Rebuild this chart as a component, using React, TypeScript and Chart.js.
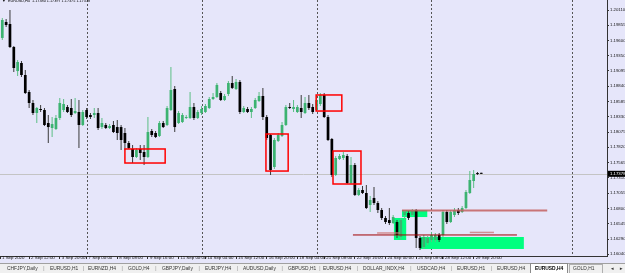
import React, { useEffect, useRef } from "react";
import { Chart, registerables } from "chart.js";

Chart.register(...registerables);

// Bar index of the first candle (7 Sep 00:00 = bar 0), EURUSD H4
const FIRST_BAR = -22;

const opens = [
  1.19644, 1.19910, 1.19877, 1.19493, 1.19092, 1.19226, 1.19026, 1.18743, 1.18559, 1.18392,
  1.18459, 1.18442, 1.18225, 1.18142, 1.18125, 1.18309, 1.18442, 1.18492, 1.18476, 1.18392,
  1.18409, 1.18192, 1.18442, 1.18359, 1.18359, 1.18392, 1.18158, 1.18192, 1.18142, 1.18192,
  1.18158, 1.18158, 1.18059, 1.17892, 1.17792, 1.17658, 1.17792, 1.17742, 1.17658, 1.18092,
  1.18059, 1.18009, 1.18225, 1.18192, 1.18442, 1.18793, 1.18225, 1.18242, 1.18309, 1.18309,
  1.18492, 1.18309, 1.18392, 1.18409, 1.18476, 1.18626, 1.18659, 1.18726, 1.18609, 1.18709,
  1.18893, 1.18793, 1.18910, 1.18409, 1.18459, 1.18409, 1.18476, 1.18592, 1.18676, 1.18325,
  1.18025, 1.17491, 1.17925, 1.18009, 1.18192, 1.18492, 1.18459, 1.18409, 1.18476, 1.18392,
  1.18559, 1.18492, 1.18442, 1.18542, 1.18693, 1.18325, 1.17959, 1.17358, 1.17625, 1.17642,
  1.17675, 1.17225, 1.17525, 1.17025, 1.17108, 1.17058, 1.16858, 1.16975, 1.16891, 1.16774,
  1.16641, 1.16607, 1.16557, 1.16574, 1.16324, 1.16691, 1.16724, 1.16691, 1.16774, 1.16308,
  1.16157, 1.16224, 1.16274, 1.16274, 1.16358, 1.16358, 1.16741, 1.16574, 1.16691, 1.16774,
  1.16741, 1.16808, 1.17058, 1.17258, 1.17391, 1.17380,
];
const highs = [
  1.19977, 1.19960, 1.20110, 1.19510, 1.19276, 1.19259, 1.19109, 1.18776, 1.18609, 1.18492,
  1.18526, 1.18476, 1.18359, 1.18325, 1.18359, 1.18643, 1.18626, 1.18526, 1.18626, 1.18643,
  1.18609, 1.18442, 1.18476, 1.18392, 1.18476, 1.18476, 1.18309, 1.18225, 1.18208, 1.18258,
  1.18275, 1.18192, 1.18142, 1.17925, 1.17859, 1.17809, 1.17859, 1.17859, 1.18325, 1.18125,
  1.18092, 1.18258, 1.18258, 1.18509, 1.19159, 1.18843, 1.18425, 1.18392, 1.18359, 1.18743,
  1.18559, 1.18442, 1.18509, 1.18542, 1.18659, 1.18726, 1.18893, 1.18759, 1.18709, 1.18926,
  1.19009, 1.18959, 1.18943, 1.18509, 1.18492, 1.18492, 1.18643, 1.18743, 1.18810, 1.18359,
  1.18042, 1.17975, 1.18059, 1.18242, 1.18526, 1.18559, 1.18609, 1.18526, 1.18693, 1.18659,
  1.18693, 1.18542, 1.18693, 1.18726, 1.18726, 1.18359, 1.17975, 1.17675, 1.17708, 1.17742,
  1.17708, 1.17658, 1.17558, 1.17141, 1.17175, 1.17191, 1.17008, 1.17158, 1.16924, 1.16808,
  1.16674, 1.16808, 1.16691, 1.16607, 1.16641, 1.16774, 1.16757, 1.16791, 1.16791, 1.16341,
  1.16358, 1.16341, 1.16408, 1.16391, 1.16391, 1.16774, 1.16774, 1.16774, 1.16808, 1.16808,
  1.16841, 1.17108, 1.17424, 1.17441, 1.17408, 1.17397,
];
const lows = [
  1.19610, 1.19827, 1.19477, 1.19076, 1.19009, 1.18992, 1.18709, 1.18476, 1.18359, 1.18225,
  1.18409, 1.18175, 1.17892, 1.17992, 1.18109, 1.18275, 1.18409, 1.18392, 1.18325, 1.18375,
  1.17809, 1.18175, 1.18292, 1.18292, 1.18309, 1.18109, 1.18125, 1.18125, 1.18125, 1.18059,
  1.17942, 1.17775, 1.17775, 1.17792, 1.17558, 1.17642, 1.17608, 1.17525, 1.17642, 1.17992,
  1.17975, 1.17992, 1.18142, 1.18175, 1.18425, 1.18075, 1.18208, 1.18225, 1.18292, 1.18292,
  1.18275, 1.18292, 1.18359, 1.18392, 1.18459, 1.18609, 1.18643, 1.18592, 1.18592, 1.18676,
  1.18793, 1.18776, 1.18375, 1.18392, 1.18392, 1.18309, 1.18459, 1.18576, 1.18275, 1.17942,
  1.17358, 1.17458, 1.17909, 1.17992, 1.18175, 1.18459, 1.18409, 1.18392, 1.18309, 1.18375,
  1.18442, 1.18375, 1.18425, 1.18509, 1.18309, 1.17925, 1.17325, 1.17341, 1.17608, 1.17608,
  1.17208, 1.17208, 1.17008, 1.17008, 1.17041, 1.16791, 1.16741, 1.16858, 1.16724, 1.16607,
  1.16540, 1.16524, 1.16540, 1.16308, 1.16274, 1.16607, 1.16607, 1.16674, 1.16141, 1.16107,
  1.16124, 1.16191, 1.16241, 1.16241, 1.16241, 1.16324, 1.16540, 1.16557, 1.16657, 1.16691,
  1.16724, 1.16791, 1.17041, 1.17141, 1.17358, 1.17375,
];
const closes = [
  1.19943, 1.19860, 1.19493, 1.19143, 1.19243, 1.19026, 1.18726, 1.18559, 1.18392, 1.18476,
  1.18442, 1.18192, 1.18158, 1.18208, 1.18309, 1.18559, 1.18542, 1.18409, 1.18359, 1.18425,
  1.18192, 1.18409, 1.18325, 1.18325, 1.18392, 1.18142, 1.18225, 1.18142, 1.18175, 1.18075,
  1.18059, 1.17942, 1.17892, 1.17809, 1.17658, 1.17775, 1.17725, 1.17658, 1.18075, 1.18025,
  1.17992, 1.18225, 1.18158, 1.18476, 1.18776, 1.18158, 1.18392, 1.18359, 1.18325, 1.18492,
  1.18309, 1.18409, 1.18459, 1.18509, 1.18626, 1.18659, 1.18860, 1.18609, 1.18676, 1.18893,
  1.18810, 1.18910, 1.18409, 1.18476, 1.18409, 1.18459, 1.18609, 1.18676, 1.18325, 1.17975,
  1.17441, 1.17942, 1.18025, 1.18192, 1.18492, 1.18476, 1.18492, 1.18492, 1.18409, 1.18559,
  1.18476, 1.18409, 1.18609, 1.18693, 1.18325, 1.17942, 1.17358, 1.17642, 1.17675, 1.17692,
  1.17225, 1.17525, 1.17025, 1.17108, 1.17058, 1.16808, 1.16941, 1.16891, 1.16774, 1.16641,
  1.16574, 1.16557, 1.16657, 1.16358, 1.16607, 1.16741, 1.16641, 1.16757, 1.16308, 1.16141,
  1.16324, 1.16308, 1.16358, 1.16358, 1.16274, 1.16741, 1.16574, 1.16741, 1.16774, 1.16724,
  1.16808, 1.17075, 1.17275, 1.17374, 1.17374, 1.17378,
];

const priceTicks = [
  1.2011, 1.19855, 1.196, 1.1935, 1.19095, 1.1884, 1.18585, 1.1833, 1.18075,
  1.1782, 1.17565, 1.1731, 1.17055, 1.168, 1.16545, 1.1629, 1.1604,
];
const timeTickBars = [-22.6, -15, -7, 0, 8, 16, 24, 31, 39, 47, 55, 62, 70, 78, 86, 93, 101];
const timeTickLabels = [
  "1 Sep 2020", "2 Sep 12:00", "3 Sep 20:00", "7 Sep 00:00", "8 Sep 08:00", "9 Sep 16:00",
  "11 Sep 00:00", "14 Sep 04:00", "15 Sep 12:00", "16 Sep 20:00", "18 Sep 04:00",
  "21 Sep 08:00", "22 Sep 16:00", "24 Sep 00:00", "25 Sep 08:00", "28 Sep 12:00", "29 Sep 20:00",
];
const separatorBars = [0, 30, 60, 90, 126.7];

// [barFrom, barTo, priceTop, priceBottom]
const redBoxes = [
  [10.0, 20.5, 1.17792, 1.17558],
  [46.8, 52.6, 1.18042, 1.17424],
  [59.9, 66.6, 1.18693, 1.18425],
  [64.3, 71.6, 1.17758, 1.17208],
];
const greenZones = [
  [82.3, 88.9, 1.16774, 1.16657],
  [80.2, 83.4, 1.16641, 1.16274],
  [87.0, 114.1, 1.16324, 1.16124],
];
// [barFrom, barTo, price]
const resistanceLine = [82.3, 120.2, 1.16766];
const supportLine = [69.5, 112.3, 1.16358];
const supportShadeA = [75.8, 81.8, 1.16391];
const supportShadeB = [100.0, 106.3, 1.16400];

const tabNames = [
  "CHFJPY,Daily", "EURUSD,H1", "EURNZD,H4", "GOLD,H4", "GBPJPY,Daily", "EURJPY,H4",
  "AUDUSD,Daily", "GBPUSD,H1", "EURUSD,H4", "DOLLAR_INDX,H4", "USDCAD,H4", "EURUSD,H1",
  "EURUSD,H4", "EURUSD,H4", "GOLD,H1",
];
const ACTIVE_TAB = 13;
const tabX = [7, 50, 88, 128, 162, 205, 243, 288, 323, 363, 417, 457, 497, 535, 573];

const X_MIN = -22.6;
const X_MAX = 135.8;
const Y_MIN = 1.16007;
const Y_MAX = 1.20277;

const BG = "#E6E6FA";
const BULL = "#3CB371";
const BEAR = "#000000";
const FONT = "'Liberation Sans', Arial, sans-serif";

const bars = opens.map((_, k) => FIRST_BAR + k);
const isBull = (k: number) => closes[k] >= opens[k];
const last = opens.length - 1;

const overlay = {
  id: "mtOverlay",
  beforeDraw(chart: any) {
    const c = chart.ctx;
    c.save();
    c.fillStyle = BG;
    c.fillRect(0, 0, chart.width, chart.height);
    c.restore();
  },
  beforeDatasetsDraw(chart: any) {
    const c = chart.ctx;
    const { left, right, top, bottom } = chart.chartArea;
    const xs = chart.scales.x;
    const ys = chart.scales.y;
    c.save();
    c.beginPath();
    c.rect(left, top, right - left, bottom - top);
    c.clip();
    const py = Math.round(ys.getPixelForValue(closes[last])) + 0.5;
    c.strokeStyle = "#C4C4C4";
    c.lineWidth = 1;
    c.beginPath();
    c.moveTo(left, py);
    c.lineTo(right, py);
    c.stroke();
    c.strokeStyle = "#555555";
    c.setLineDash([2, 2]);
    separatorBars.forEach((b) => {
      const x = Math.round(xs.getPixelForValue(b)) + 0.5;
      c.beginPath();
      c.moveTo(x, top);
      c.lineTo(x, bottom);
      c.stroke();
    });
    c.setLineDash([]);
    c.fillStyle = "#00FF7F";
    greenZones.forEach(([b1, b2, p1, p2]) => {
      const x1 = xs.getPixelForValue(b1);
      const x2 = xs.getPixelForValue(b2);
      const y1 = ys.getPixelForValue(p1);
      const y2 = ys.getPixelForValue(p2);
      c.fillRect(x1, y1, x2 - x1, y2 - y1);
    });
    c.restore();
  },
  afterDatasetsDraw(chart: any) {
    const c = chart.ctx;
    const xs = chart.scales.x;
    const ys = chart.scales.y;
    c.save();
    c.strokeStyle = "#FF0000";
    c.lineWidth = 1.5;
    redBoxes.forEach(([b1, b2, p1, p2]) => {
      const x1 = xs.getPixelForValue(b1);
      const x2 = xs.getPixelForValue(b2);
      const y1 = ys.getPixelForValue(p1);
      const y2 = ys.getPixelForValue(p2);
      c.strokeRect(x1, y1, x2 - x1, y2 - y1);
    });
    c.restore();
  },
  afterDraw(chart: any) {
    const c = chart.ctx;
    const ys = chart.scales.y;
    const { right } = chart.chartArea;
    c.save();
    const py = ys.getPixelForValue(closes[last]);
    c.fillStyle = "#000";
    c.fillRect(right + 1, py - 3, chart.width - right - 1, 6);
    c.fillStyle = "#fff";
    c.font = `4.3px ${FONT}`;
    c.textBaseline = "middle";
    c.textAlign = "left";
    c.fillText(closes[last].toFixed(5), right + 3, py);
    c.fillStyle = "#000";
    c.font = `3.8px ${FONT}`;
    c.fillText("\u25BC", 2, 1.2);
    c.fillText(
      `EURUSD,H4  ${opens[last].toFixed(5)} ${highs[last].toFixed(5)} ${lows[last].toFixed(5)} ${closes[last].toFixed(5)}`,
      8,
      1.2
    );
    const ty = 263;
    c.fillStyle = "#F0F0F0";
    c.fillRect(0, ty, chart.width, chart.height - ty);
    c.strokeStyle = "#A0A0A0";
    c.lineWidth = 1;
    c.beginPath();
    c.moveTo(0, ty + 0.5);
    c.lineTo(chart.width, ty + 0.5);
    c.stroke();
    c.fillStyle = "#FFFFFF";
    c.fillRect(530, ty, 38, chart.height - ty);
    c.strokeStyle = "#8A8A8A";
    c.strokeRect(530.5, ty + 0.5, 37, chart.height - ty);
    c.strokeStyle = "#B0B0B0";
    c.strokeRect(569.5, ty + 1.5, 33, chart.height - ty);
    c.textBaseline = "middle";
    tabNames.forEach((name, k) => {
      c.fillStyle = k === ACTIVE_TAB ? "#000" : "#333";
      c.font = k === ACTIVE_TAB ? `bold 4.9px ${FONT}` : `4.9px ${FONT}`;
      c.fillText(name, tabX[k], ty + 5.5);
      if (k < ACTIVE_TAB - 1) {
        const w = c.measureText(name).width;
        const next = tabX[k + 1];
        c.fillStyle = "#888";
        c.fillText("|", (tabX[k] + w + next) / 2 - 0.5, ty + 5.5);
      }
    });
    c.fillStyle = "#333";
    c.font = `4.5px ${FONT}`;
    c.fillText("\u25C4", 610, ty + 5.5);
    c.fillText("\u25BA", 619, ty + 5.5);
    c.restore();
  },
};

function lineDataset(seg: number[], color: string, width: number) {
  return {
    type: "line" as const,
    data: [
      { x: seg[0], y: seg[2] },
      { x: seg[1], y: seg[2] },
    ],
    borderColor: color,
    borderWidth: width,
    pointRadius: 0,
    fill: false,
    order: 0,
  };
}

export default function App() {
  const ref = useRef<HTMLCanvasElement>(null);

  useEffect(() => {
    document.body.style.margin = "0";
    const canvas = ref.current;
    if (!canvas) return;
    const chart = new Chart(canvas, {
      type: "bar",
      data: {
        datasets: [
          lineDataset(resistanceLine, "rgba(195,95,95,0.85)", 2),
          lineDataset(supportShadeA, "rgba(205,120,120,0.8)", 1.5),
          lineDataset(supportShadeB, "rgba(205,120,120,0.8)", 1.5),
          lineDataset(supportLine, "#A00000", 1),
          {
            type: "bar" as const,
            data: bars.map((x, k) => ({ x, y: [opens[k], closes[k]] })) as any,
            backgroundColor: (ctx: any) => (isBull(ctx.dataIndex) ? BULL : BEAR),
            borderWidth: 0,
            grouped: false,
            maxBarThickness: 2.7,
            minBarLength: 1,
            order: 1,
          },
          {
            type: "bar" as const,
            data: bars.map((x, k) => ({ x, y: [lows[k], highs[k]] })) as any,
            backgroundColor: (ctx: any) => (isBull(ctx.dataIndex) ? "#5CBF85" : "#3A3A3A"),
            borderWidth: 0,
            grouped: false,
            maxBarThickness: 1,
            minBarLength: 1,
            order: 2,
          },
        ] as any,
      },
      options: {
        responsive: false,
        animation: false,
        events: [],
        layout: { padding: { left: 0, right: 0, top: 0, bottom: 9 } },
        plugins: { legend: { display: false }, tooltip: { enabled: false } },
        scales: {
          x: {
            type: "linear",
            min: X_MIN,
            max: X_MAX,
            offset: false,
            grid: {
              display: true,
              drawOnChartArea: false,
              drawTicks: true,
              tickLength: 3,
              color: "#333",
              offset: false,
            },
            border: { display: true, color: "#333", width: 1 },
            ticks: {
              autoSkip: false,
              maxRotation: 0,
              minRotation: 0,
              align: "start",
              padding: -3.5,
              labelOffset: 2,
              color: "#111",
              font: { family: FONT, size: 4.4 },
              callback: (_v: any, i: number) => timeTickLabels[i] ?? "",
            },
            afterBuildTicks: (s: any) => {
              s.ticks = timeTickBars.map((v) => ({ value: v }));
            },
            afterFit: (s: any) => {
              s.height = 8;
              s.paddingLeft = 0;
              s.paddingRight = 0;
            },
          },
          y: {
            type: "linear",
            position: "right",
            min: Y_MIN,
            max: Y_MAX,
            grid: {
              display: true,
              drawOnChartArea: false,
              drawTicks: true,
              tickLength: 2,
              color: "#333",
            },
            border: { display: true, color: "#333", width: 1 },
            ticks: {
              autoSkip: false,
              padding: 1,
              color: "#111",
              font: { family: FONT, size: 4.3 },
              callback: (v: any) => Number(v).toFixed(5),
            },
            afterBuildTicks: (s: any) => {
              s.ticks = priceTicks.map((v) => ({ value: v }));
            },
            afterFit: (s: any) => {
              s.width = 18;
              s.paddingTop = 0;
              s.paddingBottom = 0;
            },
          },
        },
      } as any,
      plugins: [overlay],
    });
    return () => chart.destroy();
  }, []);

  return (
    <div style={{ position: "absolute", left: 0, top: 0, width: 625, height: 273 }}>
      <canvas ref={ref} width={625} height={273} style={{ display: "block" }} />
    </div>
  );
}
